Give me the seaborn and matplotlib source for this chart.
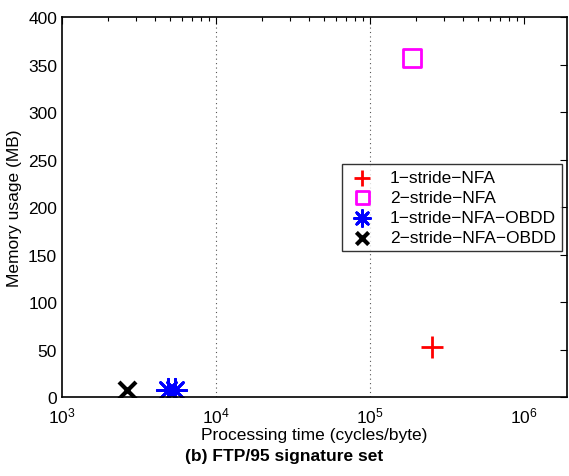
import matplotlib
matplotlib.use("Agg")
import matplotlib.pyplot as plt
import seaborn as sns
from matplotlib.ticker import LogLocator, FixedLocator

# values
nfa1_time = [2.54e5]
nfa1_mem = [53]
nfa2_time = [1.86e5]
nfa2_mem = [357]
obdd1_time = [4.9e3, 5.4e3]
obdd1_mem = [7.5, 7.5]
obdd2_time = [2.63e3]
obdd2_mem = [7]

y_ticks = [0, 50, 100, 150, 200, 250, 300, 350, 400]

sns.set_theme(style="white")
plt.rcParams["font.family"] = ["Liberation Sans", "DejaVu Sans"]
plt.rcParams["mathtext.fontset"] = "custom"
plt.rcParams["mathtext.rm"] = "Liberation Sans"
plt.rcParams["text.color"] = "black"
plt.rcParams["axes.labelcolor"] = "black"

fig = plt.figure(figsize=(5.69, 4.77), dpi=100)
ax = fig.add_axes([0.109, 0.1656, 0.8875, 0.7966])

sns.scatterplot(x=nfa1_time, y=nfa1_mem, marker="+", s=260, color="#ff0000",
                linewidth=2, label="1\u2212stride\u2212NFA", ax=ax)
sns.scatterplot(x=nfa2_time, y=nfa2_mem, marker="s", s=170, facecolors="none",
                edgecolors="#ff00ff", linewidths=2, label="2\u2212stride\u2212NFA", ax=ax)
sns.scatterplot(x=obdd1_time, y=obdd1_mem, marker=(8, 2, 0), s=260, color="#0000ff",
                edgecolors="#0000ff", linewidths=2, label="1\u2212stride\u2212NFA\u2212OBDD", ax=ax)
sns.scatterplot(x=obdd2_time, y=obdd2_mem, marker="x", s=150, color="black",
                linewidth=3, label="2\u2212stride\u2212NFA\u2212OBDD", ax=ax)

ax.set_xscale("log")
ax.set_xlim(1e3, 1.9e6)
ax.set_ylim(0, 400)
ax.set_yticks(y_ticks)
ax.xaxis.set_major_locator(FixedLocator([1e3, 1e4, 1e5, 1e6]))
ax.xaxis.set_minor_locator(LogLocator(base=10, subs=range(2, 10), numticks=20))

for xv in [1e4, 1e5]:
    ax.axvline(xv, color="#555555", linestyle=(0, (1, 3)), linewidth=0.8, zorder=0)

ax.tick_params(axis="both", which="both", direction="in", top=True, right=True,
               labelsize=12.5, colors="black")
ax.tick_params(which="major", length=5, width=0.8)
ax.tick_params(which="minor", length=3, width=0.8)
ax.tick_params(axis="x", which="major", pad=6)
for sp in ax.spines.values():
    sp.set_color("black")
    sp.set_linewidth(1.2)

ax.set_xlabel("Processing time (cycles/byte)", fontsize=12.5, labelpad=1)
ax.set_ylabel("Memory usage (MB)", fontsize=12.5, labelpad=4)

leg = ax.legend(loc="upper left", bbox_to_anchor=(0.555, 0.613), fontsize=12.5,
                frameon=True, fancybox=False, borderpad=0.35, labelspacing=0.28,
                handletextpad=0.8, handlelength=1.6, borderaxespad=0,
                markerscale=0.72)
leg.get_frame().set_edgecolor("black")
leg.get_frame().set_linewidth(1.0)

fig.text(0.5, 0.044, "(b) FTP/95 signature set", ha="center", va="center",
         fontsize=12.5, fontweight="bold", color="black")

fig.savefig("out.png", dpi=100)
